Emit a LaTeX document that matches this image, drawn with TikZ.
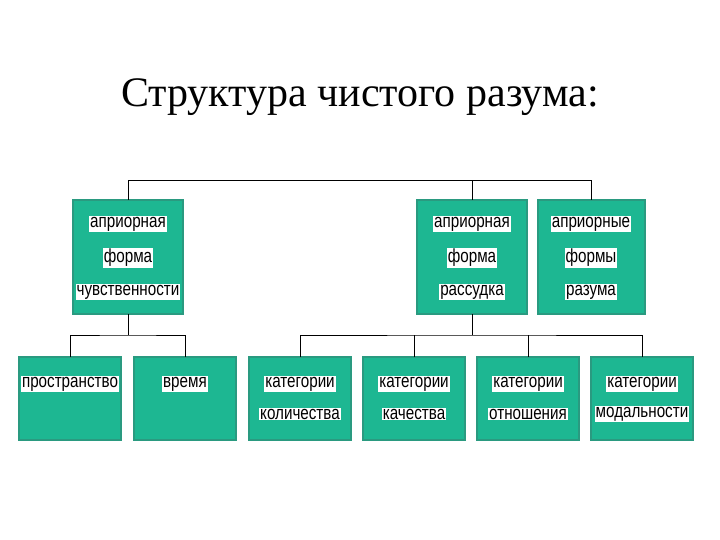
\documentclass[tikz,border=0pt]{standalone}
\usepackage{fontspec}
\setmainfont{Liberation Serif}
\newfontfamily\narrowf[FakeStretch=0.8]{Liberation Sans}
\definecolor{boxfill}{HTML}{1DB792}
\definecolor{boxline}{HTML}{2A9A80}
\begin{document}
\begin{tikzpicture}[x=1pt,y=-1pt,
  box/.style={draw=boxline,fill=boxfill,line width=1.2pt},
  lbl/.style={fill=white,inner sep=1pt,font=\narrowf\fontsize{19}{20}\selectfont},
  conn/.style={line width=1pt}]
\useasboundingbox (0,0) rectangle (720,540);
\node[font=\fontsize{42}{46}\selectfont] (title) at (360,97) {Структура чистого разума:};
% upper boxes
\path[box] (73,200) rectangle (183,314); \coordinate (b1t) at (128,200); \coordinate (b1b) at (128,314);
\path[box] (417,200) rectangle (527,314); \coordinate (b2t) at (472,200); \coordinate (b2b) at (472,314);
\path[box] (538,200) rectangle (645,314); \coordinate (b3t) at (591,200);
\node[lbl] (l11) at (128,224) {априорная};
\node[lbl] (l12) at (128,258) {форма};
\node[lbl] (l13) at (128,292) {чувственности};
\node[lbl] (l21) at (472,224) {априорная};
\node[lbl] (l22) at (472,258) {форма};
\node[lbl] (l23) at (472,292) {рассудка};
\node[lbl] (l31) at (591,224) {априорные};
\node[lbl] (l32) at (591,258) {формы};
\node[lbl] (l33) at (591,292) {разума};
% lower boxes
\foreach \n/\x/\w in {p/70/51,v/185/51,k1/300/51,k2/414/51,k3/528/51,k4/642/51}{
  \path[box] (\x-\w,357) rectangle (\x+\w,440);
  \coordinate (\n t) at (\x,357);
}
\node[lbl] (pp) at (70,384) {пространство};
\node[lbl] (vv) at (185,384) {время};
\node[lbl] (a1) at (300,384) {категории};
\node[lbl] (a2) at (300,414) {количества};
\node[lbl] (c1) at (414,384) {категории};
\node[lbl] (c2) at (414,414) {качества};
\node[lbl] (d1) at (528,384) {категории};
\node[lbl] (d2) at (528,414) {отношения};
\node[lbl] (e1) at (642,384) {категории};
\node[lbl] (e2) at (642,414) {модальности};
% connectors
\draw[conn] (b1t) -- ++(0,-19) -| (b3t);
\draw[conn] (b2t) -- ++(0,-19);
\draw[conn] (b1b) -- ++(0,21) coordinate (j1);
\draw[conn] (pt) |- (j1) -| (vt);
\draw[conn] (b2b) -- ++(0,21) coordinate (j2);
\draw[conn] (k1t) |- (j2) -| (k4t);
\draw[conn] (k2t) -- ++(0,-22);
\draw[conn] (k3t) -- ++(0,-22);
\end{tikzpicture}
\end{document}
